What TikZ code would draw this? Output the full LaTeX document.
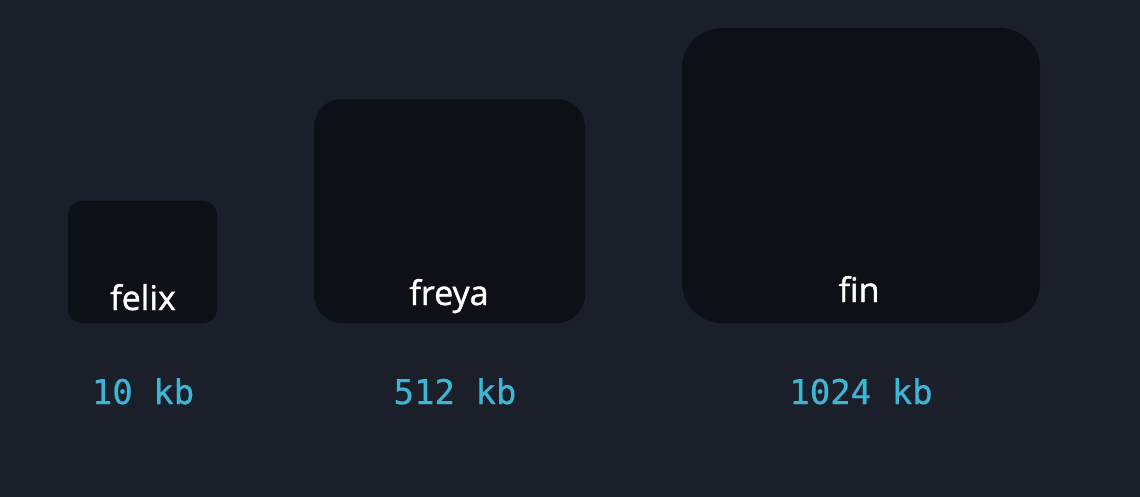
\documentclass[tikz,border=0pt]{standalone}
\usepackage{fontspec}
\setmainfont{Open Sans}[FakeBold=1.2]
\setmonofont{DejaVu Sans Mono}[FakeBold=0.6]
\definecolor{bg}{HTML}{1B1F2A}
\definecolor{boxc}{HTML}{0D1017}
\definecolor{cyanl}{HTML}{3CB6D6}
\begin{document}
\begin{tikzpicture}[x=1pt,y=-1pt,
  filebox/.style={fill=boxc,draw=none},
  namelbl/.style={text=white,font=\fontsize{34}{38}\selectfont,inner sep=0pt,anchor=base},
  sizelbl/.style={text=cyanl,font=\ttfamily\fontsize{34}{38}\selectfont,inner sep=0pt,anchor=base}]
\fill[bg] (0,0) rectangle (1140,497);
\useasboundingbox (0,0) rectangle (1140,497);
\node[filebox,rounded corners=14pt,minimum width=149pt,minimum height=122pt,inner sep=0pt] (felixbox) at (142.5,262) {};
\node[filebox,rounded corners=28pt,minimum width=271pt,minimum height=224pt,inner sep=0pt] (freyabox) at (449.5,211) {};
\node[filebox,rounded corners=40pt,minimum width=358pt,minimum height=295pt,inner sep=0pt] (finbox) at (861,175.5) {};
\node[namelbl] (felix) at (143,310) {felix};
\node[namelbl] (freya) at (449,305) {freya};
\node[namelbl] (fin) at (859,302) {fin};
\node[sizelbl] (s1) at (143,404) {10 kb};
\node[sizelbl] (s2) at (455,404) {512 kb};
\node[sizelbl] (s3) at (861,404) {1024 kb};
\end{tikzpicture}
\end{document}
